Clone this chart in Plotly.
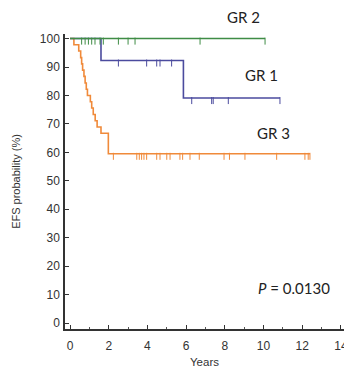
import numpy as np
import plotly.graph_objects as go

# ---- data ----
# GR 1 (blue)
gr1_times = [0.0, 1.6, 5.86, 10.85]
gr1_surv = [100.0, 92.3, 79.1, 79.1]
gr1_censor = [2.5, 3.96, 4.48, 4.65, 5.25, 6.29, 7.32, 7.4, 8.18, 10.85]

# GR 2 (green)
gr2_times = [0.0, 10.08]
gr2_surv = [100.0, 100.0]
gr2_censor = [0.6, 0.78, 0.95, 1.12, 1.29, 1.55, 1.72, 2.5, 3.0, 3.36, 6.72, 10.08]

# GR 3 (orange)
gr3_times = [0.0, 0.2, 0.45, 0.55, 0.6, 0.65, 0.72, 0.78, 0.84, 0.9, 1.05, 1.12,
             1.2, 1.3, 1.4, 1.6, 1.98, 12.4]
gr3_surv = [100.0, 97.8, 95.6, 93.3, 91.1, 88.9, 86.7, 84.4, 82.2, 80.0, 77.8, 75.6,
            73.3, 71.1, 68.9, 66.7, 59.5, 59.5]
gr3_censor = [2.24, 3.45, 3.58, 3.7, 3.82, 3.96, 4.48, 4.65, 5.0, 5.17, 5.68, 5.82,
              6.2, 6.68, 7.96, 8.24, 9.04, 10.68, 12.14, 12.31, 12.4]

x_ticks = [0, 2, 4, 6, 8, 10, 12, 14]
y_ticks = [0, 10, 20, 30, 40, 50, 60, 70, 80, 90, 100]

COL_G = "#3f8c45"
COL_B = "#4b4b9e"
COL_O = "#f08a3a"
TICK_DROP = 0.9  # censor ticks hang slightly below the line


def surv_at(times, surv, t):
    idx = np.searchsorted(np.array(times), np.array(t), side="right") - 1
    return np.array(surv)[idx]


fig = go.Figure()
for times, surv, cens, col in [
    (gr3_times, gr3_surv, gr3_censor, COL_O),
    (gr1_times, gr1_surv, gr1_censor, COL_B),
    (gr2_times, gr2_surv, gr2_censor, COL_G),
]:
    fig.add_trace(go.Scatter(x=times, y=surv, mode="lines", line_shape="hv",
                             line=dict(color=col, width=1.6), showlegend=False,
                             hoverinfo="skip"))
    fig.add_trace(go.Scatter(x=cens, y=surv_at(times, surv, cens) - TICK_DROP,
                             mode="markers",
                             marker=dict(symbol="line-ns", size=5,
                                         line=dict(color=col, width=1)),
                             showlegend=False, hoverinfo="skip"))

ann_font = dict(family="Lato, Open Sans, sans-serif", size=15, color="#222")
fig.add_annotation(x=8.94, xref="x", y=1.058, yref="paper", text="GR 2",
                   xanchor="center", yanchor="middle", showarrow=False, font=ann_font)
fig.add_annotation(x=9.92, y=87.2, text="GR 1", xanchor="center", yanchor="middle",
                   showarrow=False, font=ann_font)
fig.add_annotation(x=10.54, y=66.8, text="GR 3", xanchor="center", yanchor="middle",
                   showarrow=False, font=ann_font)
fig.add_annotation(x=11.55, y=12.3, text="<i>P</i> = 0.0130", xanchor="center",
                   yanchor="middle", showarrow=False, font=ann_font)

axis_font = dict(family="Liberation Sans, Arial, sans-serif", size=12, color="#333")
fig.update_layout(
    width=344, height=369,
    margin=dict(l=65, r=0, t=34, b=40),
    paper_bgcolor="white", plot_bgcolor="white",
    font=axis_font,
    xaxis=dict(range=[-0.26, 14.16], tickvals=x_ticks, ticks="inside", ticklen=4,
               tickcolor="#333", showline=True, linecolor="#333", linewidth=1.5,
               showgrid=False, zeroline=False, ticklabelstandoff=5, automargin=False,
               ticklabeloverflow="allow",
               minor=dict(tickvals=[1, 3, 5, 7, 9, 11, 13], ticks="inside",
                          ticklen=2, tickcolor="#555"),
               title=dict(text="Years", font=dict(size=11.5, color="#333"),
                          standoff=6)),
    yaxis=dict(range=[-2.1, 101.6], tickvals=y_ticks, ticks="inside", ticklen=4,
               tickcolor="#333", showline=True, linecolor="#333", linewidth=1.5,
               showgrid=False, zeroline=False, ticklabelstandoff=1, automargin=False,
               title=dict(text="EFS probability (%)", font=dict(size=11, color="#333"),
                          standoff=17)),
)

fig.write_html("out.html", config={"displayModeBar": False},
               post_script="document.body.style.margin='0';"
                           "document.body.style.overflow='hidden';")
